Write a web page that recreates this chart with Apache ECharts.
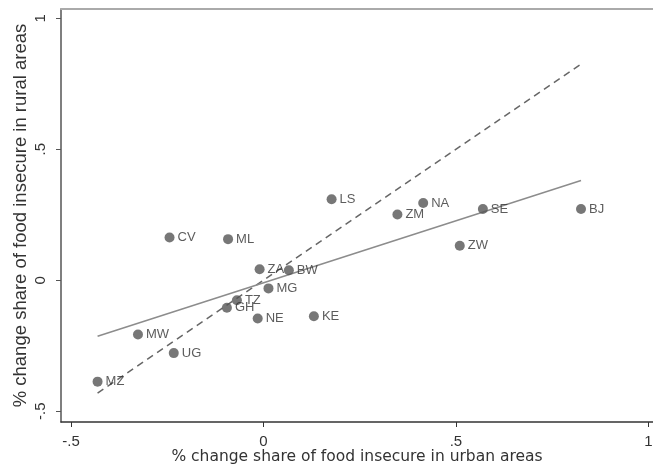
<!DOCTYPE html>
<html>
<head>
<meta charset="utf-8">
<script src="https://cdn.jsdelivr.net/npm/echarts@6/dist/echarts.min.js"></script>
<style>
html,body{margin:0;padding:0;background:#fff;}
#main{width:653px;height:470px;}
</style>
</head>
<body>
<div id="main"></div>
<script>
const countries = ["MZ","MW","UG","CV","ML","ZA","BW","MG","TZ","GH","NE","KE","LS","ZM","NA","SE","BJ","ZW"];
const urbanChange = [-0.431,-0.326,-0.233,-0.244,-0.092,-0.010,0.066,0.013,-0.069,-0.095,-0.015,0.131,0.177,0.348,0.415,0.570,0.825,0.510];
const ruralChange = [-0.387,-0.207,-0.278,0.163,0.157,0.042,0.038,-0.031,-0.076,-0.105,-0.146,-0.137,0.309,0.251,0.295,0.272,0.272,0.132];
const fitLineX = [-0.431, 0.825];
const fitLineY = [-0.214, 0.381];
const diagLineX = [-0.431, 0.825];
const diagLineY = [-0.431, 0.825];
const xTicks = [-0.5, 0, 0.5, 1];
const yTicks = [-0.5, 0, 0.5, 1];
const xTitle = "% change share of food insecure in urban areas";
const yTitle = "% change share of food insecure in rural areas";

function fmt(v){
  if (Math.abs(v) < 1e-9) return "0";
  let s = String(v);
  return s.replace(/^(-?)0\./, "$1.");
}

const points = countries.map((c,i)=>[urbanChange[i], ruralChange[i], c]);
const chart = echarts.init(document.getElementById('main'), null, {renderer:'canvas'});
const font = '"Liberation Sans", Arial, sans-serif';
chart.setOption({
  animation:false,
  backgroundColor:'#fff',
  grid:{left:61, top:9, right:0, bottom:48, containLabel:false, outerBoundsMode:'none'},
  xAxis:[{
    type:'value', min:-0.526, max:1.012,
    name:xTitle, nameLocation:'middle', nameGap:27, nameMoveOverlap:false,
    nameTextStyle:{fontFamily:'"DejaVu Sans", Verdana, sans-serif', fontSize:15.5, color:'#333'},
    axisLine:{show:true, onZero:false, lineStyle:{color:'#333', width:1.5}},
    axisTick:{show:true, customValues:xTicks, length:5, lineStyle:{color:'#333'}},
    axisLabel:{customValues:xTicks, formatter:fmt, fontFamily:font, fontSize:15, color:'#333', margin:12},
    splitLine:{show:false}
  },{
    type:'value', position:'top', min:-0.526, max:1.012,
    axisLine:{show:true, onZero:false, lineStyle:{color:'#aaa', width:2}},
    axisTick:{show:false}, axisLabel:{show:false}, splitLine:{show:false}
  }],
  yAxis:{
    type:'value', min:-0.541, max:1.0355,
    name:yTitle, nameLocation:'middle', nameGap:31, nameRotate:90, nameMoveOverlap:false,
    nameTextStyle:{fontFamily:font, fontSize:18.5, color:'#333'},
    axisLine:{show:true, onZero:false, lineStyle:{color:'#555', width:1.5}},
    axisTick:{show:true, customValues:yTicks, length:5, lineStyle:{color:'#555'}},
    axisLabel:{customValues:yTicks, formatter:fmt, rotate:90, fontFamily:font, fontSize:15, color:'#333', margin:13},
    splitLine:{show:false}
  },
  series:[
    {
      type:'line', data:diagLineX.map((x,i)=>[x, diagLineY[i]]), symbol:'none',
      lineStyle:{color:'#666', width:1.5, type:[7,5]}, z:2
    },
    {
      type:'line', data:fitLineX.map((x,i)=>[x, fitLineY[i]]), symbol:'none',
      lineStyle:{color:'#8c8c8c', width:1.5}, z:2
    },
    {
      type:'scatter', data:points, symbol:'circle', symbolSize:10,
      itemStyle:{color:'#555'}, z:3,
      label:{show:true, position:'right', distance:3, formatter:p=>p.data[2],
        fontFamily:font, fontSize:13, color:'#333'}
    }
  ]
});
</script>
</body>
</html>
